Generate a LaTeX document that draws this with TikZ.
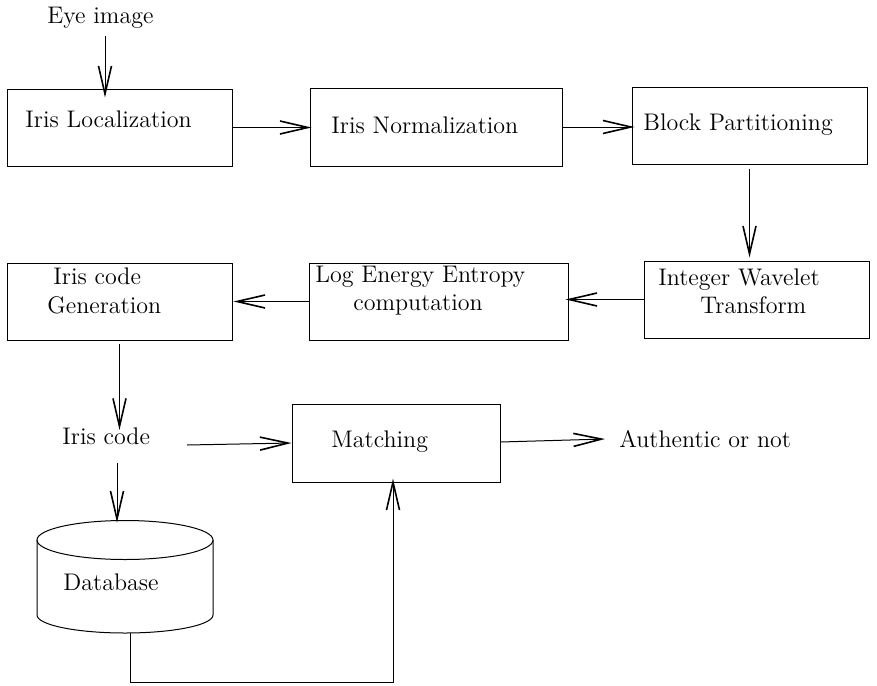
\documentclass[tikz,border=0pt]{standalone}
\usetikzlibrary{arrows.meta,calc}
\begin{document}
\begin{tikzpicture}[x=0.5pt,y=-0.5pt,
  every node/.style={font=\fontsize{12}{14}\selectfont},
  box/.style={draw,line width=0.5pt,inner sep=0pt},
  txt/.style={anchor=base west,inner sep=0pt},
  arr/.style={line width=0.5pt,-{Straight Barb[length=14pt,width=6.5pt,line width=0.8pt]}},
  ln/.style={line width=0.5pt}]
\useasboundingbox (0,0) rectangle (877,685);
% boxes
\node[box,minimum width=112.5pt,minimum height=38.5pt] (b1) at (119.5,127.5) {};
\node[box,minimum width=126pt,minimum height=39pt] (b2) at (436,127) {};
\node[box,minimum width=117.5pt,minimum height=38.5pt] (b3) at (749.5,125.5) {};
\node[box,minimum width=112.5pt,minimum height=38.5pt] (b4) at (756.5,299.5) {};
\node[box,minimum width=129.5pt,minimum height=38.5pt] (b5) at (438.5,301.5) {};
\node[box,minimum width=112.5pt,minimum height=38.5pt] (b6) at (119.5,301.5) {};
\node[box,minimum width=104pt,minimum height=39pt] (b7) at (396,443) {};
% database cylinder
\node[inner sep=0pt,minimum width=88pt,minimum height=56pt] (db) at (125,577) {};
\draw[ln] (125,540) ellipse [x radius=44pt,y radius=9.75pt];
\draw[ln] (37,540) -- (37,615) arc[start angle=180,end angle=360,x radius=44pt,y radius=9pt] -- (213,540);
% texts
\node[txt] (eye) at (47,23) {Eye image};
\node[txt] (t1) at (25,127) {Iris Localization};
\node[txt] (t2) at (331,133) {Iris Normalization};
\node[txt] (t3) at (643,130) {Block Partitioning};
\node[txt] (t4a) at (658,285) {Integer Wavelet};
\node[txt] (t4b) at (700,313) {Transform};
\node[txt] (t5a) at (315,282) {Log Energy Entropy};
\node[txt] (t5b) at (353,310) {computation};
\node[txt] (t6a) at (53,284) {Iris code};
\node[txt] (t6b) at (47,313) {Generation};
\node[txt] (ic) at (62,444) {Iris code};
\node[txt] (t7) at (331,447) {Matching};
\node[txt] (auth) at (619,447) {Authentic or not};
\node[txt] (dbt) at (63,590) {Database};
% helper coordinates
\coordinate (e1) at (105,36);
\coordinate (icx) at (117,0);
\coordinate (ics) at (187,445);
\coordinate (icd) at (117,463);
\coordinate (authin) at (605,439);
\coordinate (dbb) at (130,633);
\coordinate (m) at (393,682);
% connectors
\draw[arr] (e1) -- ([yshift=-4.5pt]b1.north -| e1);
\draw[arr] (b1.east) -- ([xshift=1pt]b1.east -| b2.west);
\draw[arr] (b2.east) -- ([xshift=1.5pt]b2.east -| b3.west);
\draw[arr] ([yshift=-2pt]b3.south) -- ([yshift=1.5pt]b4.north -| b3.south);
\draw[arr] (b4.west) -- ([xshift=-1.5pt]b4.west -| b5.east);
\draw[arr] (b5.west) -- ([xshift=0.5pt]b5.west -| b6.east);
\draw[arr] ([yshift=-1.5pt]b6.south) -- ([yshift=-1.5pt]b6.south |- ic.north);
\draw[arr] (ics) -- (b7.west);
\draw[arr] (icd) -- ([yshift=-1pt]db.north -| icx);
\draw[arr] ([yshift=0.5pt]b7.east) -- (authin);
\draw[arr] (dbb) |- (m) -- ([yshift=2pt]b7.south -| m);
\end{tikzpicture}
\end{document}
